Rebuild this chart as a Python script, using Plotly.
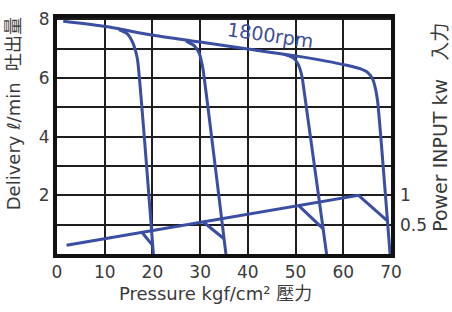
import plotly.graph_objects as go

# ---- data ----
# Delivery curves (l/min) vs pressure (kgf/cm2)
main_x = [1.3, 10.3, 19.5, 30.0, 40.0, 50.3, 60.7, 63.5, 65.2, 66.2, 66.8, 67.2, 69.8]
main_y = [7.94, 7.76, 7.48, 7.23, 6.99, 6.75, 6.44, 6.32, 6.18, 5.95, 5.6, 5.2, 0.0]

cut1_x = [13.0, 14.8, 15.9, 16.5, 16.9, 20.2]
cut1_y = [7.65, 7.5, 7.2, 6.9, 6.6, 0.0]

cut2_x = [27.0, 28.8, 29.8, 30.3, 30.6, 35.4]
cut2_y = [7.27, 7.1, 6.85, 6.55, 6.3, 0.0]

cut3_x = [47.5, 49.6, 50.6, 51.2, 51.5, 56.5]
cut3_y = [6.82, 6.68, 6.45, 6.15, 5.9, 0.0]

# Power input (kW) vs pressure
pow_x = [2.0, 63.2, 69.3]
pow_y = [0.15, 1.0, 0.56]
pb1_x = [17.8, 19.9]
pb1_y = [0.37, 0.16]
pb2_x = [30.6, 35.0]
pb2_y = [0.55, 0.26]
pb3_x = [50.6, 55.8]
pb3_y = [0.83, 0.43]

x_ticks = [0, 10, 20, 30, 40, 50, 60, 70]
y_ticks = [0, 1, 2, 3, 4, 5, 6, 7, 8]
y_ticktext = ["", "", "2", "", "4", "", "6", "", "8"]
y2_ticks = [0.5, 1]
y2_ticktext = ["0.5", "1"]

LINE = "#3a4ea3"
TXT = "#3a3a3a"
FONT = "DejaVu Sans, Noto Sans CJK TC, sans-serif"

fig = go.Figure()
for xs, ys in [(main_x, main_y), (cut1_x, cut1_y), (cut2_x, cut2_y), (cut3_x, cut3_y)]:
    fig.add_trace(go.Scatter(x=xs, y=ys, mode="lines", line=dict(color=LINE, width=3, shape="spline", smoothing=0.6),
                             showlegend=False, hoverinfo="skip"))
for xs, ys in [(pow_x, pow_y), (pb1_x, pb1_y), (pb2_x, pb2_y), (pb3_x, pb3_y)]:
    fig.add_trace(go.Scatter(x=xs, y=ys, mode="lines", yaxis="y2", line=dict(color=LINE, width=3),
                             showlegend=False, hoverinfo="skip"))

fig.add_annotation(x=44.7, y=7.46, text="1800rpm", showarrow=False, textangle=8,
                   font=dict(family=FONT, size=19, color="#3f4f99"))

fig.add_annotation(xref="paper", yref="paper", x=0.476, y=-0.167, text="Pressure kgf/cm² 壓力",
                   showarrow=False, font=dict(family=FONT, size=18, color=TXT), xanchor="center", yanchor="middle")
fig.add_annotation(xref="paper", yref="paper", x=-0.132, y=0.596, text="Delivery ℓ/min  吐出量",
                   showarrow=False, textangle=-90, font=dict(family=FONT, size=18, color=TXT),
                   xanchor="center", yanchor="middle")
fig.add_annotation(xref="paper", yref="paper", x=1.147, y=0.535, text="Power INPUT kw   入力",
                   showarrow=False, textangle=-90, font=dict(family=FONT, size=19, color=TXT),
                   xanchor="center", yanchor="middle")

fig.update_layout(
    width=452, height=312,
    margin=dict(l=57, r=61, t=9, b=58),
    paper_bgcolor="white", plot_bgcolor="white",
    font=dict(family=FONT, size=17, color=TXT),
    xaxis=dict(range=[0, 70], tickvals=x_ticks, showgrid=True, gridcolor="#1e1e1e", gridwidth=2,
               showline=True, linecolor="#111", linewidth=4, mirror=True, zeroline=False,
               ticks="", tickfont=dict(size=17, color=TXT), fixedrange=True),
    yaxis=dict(range=[0, 8.05], tickvals=y_ticks, ticktext=y_ticktext, showgrid=True, gridcolor="#1e1e1e",
               gridwidth=2, showline=True, linecolor="#111", linewidth=4, mirror=True, zeroline=False,
               ticks="", tickfont=dict(size=17, color=TXT), fixedrange=True),
    yaxis2=dict(range=[0, 4.025], overlaying="y", side="right", tickvals=y2_ticks, ticktext=y2_ticktext,
                showgrid=False, zeroline=False, showline=False, ticks="", ticklabelstandoff=8,
                tickfont=dict(size=17, color=TXT), fixedrange=True),
)

fig.write_html("out.html", config={"displayModeBar": False},
               post_script="document.body.style.margin='0';document.body.style.padding='0';")
